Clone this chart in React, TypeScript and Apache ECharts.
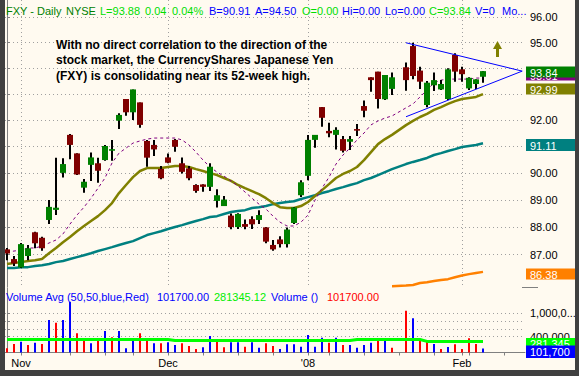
import React, { useEffect, useRef } from 'react';
import * as echarts from 'echarts';

const FONT = '"Liberation Sans", Arial, Helvetica, sans-serif';

// slot index 0..68 (trading days, idx 56 = MLK holiday gap)
const monthIdx = [2, 23, 43, 65];
const monthLabels = ['Nov', 'Dec', "'08", 'Feb'];
const weekIdx = [2, 9, 14, 18, 23, 28, 33, 38, 43, 46, 51, 56, 61, 65, 66, 71];
const priceTicks = [87, 88, 89, 90, 91, 92, 93, 94, 95, 96];
const priceLabelTicks = [87, 88, 89, 90, 91, 92, 95, 96];
const volTicks = [400000, 600000, 800000, 1000000];
const volLabelTicks = [400000, 1000000];

const opens = [87.19, 86.84, 86.54, 86.95, 87.81, 87.61, 88.26, 88.63, 90.0, 91.43,
  90.73, 89.45, 90.3, 90.36, 90.48, 90.83, 91.97, 92.8, 92.29, 92.67,
  91.2, 91.05, 90.15, 90.58, 91.24, 90.36, 90.17, 89.55, 89.57, 89.48,
  88.96, 88.77, 88.42, 88.0, 88.11, 88.29, 88.26, 87.99, 87.35, 87.55,
  87.38, 88.15, 89.17, 89.89, 91.24, 92.49, 91.58, 91.43, 91.27, 91.17,
  91.65, 92.53, 93.64, 93.86, 92.79, 93.19, null, 94.03, 94.86, 93.9,
  92.57, 93.33, 93.17, 92.8, 94.51, 93.95, 93.21, 93.38, 93.66];
const closes = [87.04, 86.68, 87.38, 87.23, 87.41, 87.23, 88.74, 88.71, 90.33, 91.05,
  89.94, 89.67, 90.58, 90.08, 91.01, 90.89, 92.19, 92.29, 93.17, 91.81,
  90.57, 90.88, 89.8, 90.38, 90.98, 90.04, 89.8, 89.33, 89.48, 90.23,
  89.17, 89.01, 88.0, 88.48, 88.01, 88.1, 88.44, 87.47, 87.19, 87.38,
  87.91, 88.72, 89.65, 91.24, 91.43, 92.08, 91.49, 91.62, 90.83, 91.27,
  91.59, 92.35, 93.53, 92.8, 93.73, 93.64, null, 93.53, 93.69, 93.47,
  93.43, 93.53, 93.38, 93.95, 93.86, 93.76, 93.62, 93.56, 93.88];
const highs = [87.24, 86.95, 87.42, 87.35, 87.83, 87.65, 88.99, 90.57, 90.55, 91.46,
  90.74, 89.77, 90.76, 90.57, 91.05, 91.24, 92.25, 92.8, 93.17, 92.67,
  91.24, 91.24, 90.26, 90.73, 91.27, 90.58, 90.26, 89.58, 89.58, 90.36,
  89.39, 89.14, 88.5, 88.51, 88.28, 88.4, 88.62, 88.0, 87.53, 87.67,
  87.98, 88.74, 89.73, 91.43, 91.43, 92.49, 91.89, 91.72, 91.39, 91.39,
  91.84, 92.74, 93.64, 93.86, 93.73, 93.83, null, 94.22, 94.99, 94.05,
  93.5, 93.83, 93.53, 93.99, 94.58, 94.05, 93.64, 93.56, 93.88];
const lows = [86.8, 86.59, 86.52, 86.8, 87.23, 87.14, 88.11, 88.44, 89.83, 90.51,
  89.92, 89.26, 89.7, 89.63, 90.45, 90.45, 91.65, 92.16, 92.0, 91.7,
  90.23, 90.63, 89.76, 90.36, 90.79, 89.98, 89.73, 89.26, 89.3, 89.33,
  88.72, 88.77, 87.92, 87.93, 87.92, 87.93, 88.11, 87.41, 87.14, 87.26,
  87.26, 88.11, 89.1, 89.73, 90.94, 91.74, 91.34, 90.88, 90.76, 90.86,
  91.39, 92.1, 93.08, 92.44, 92.76, 92.95, null, 93.12, 93.56, 93.19,
  92.48, 93.11, 93.15, 92.76, 93.47, 93.47, 93.15, 93.19, 93.43];

const ma10 = [87.09, 87.13, 87.16, 87.24, 87.24, 87.31, 87.42, 87.53, 87.75, 88.11,
  88.44, 88.73, 89.06, 89.43, 89.81, 90.37, 90.74, 90.93, 91.12, 91.2,
  91.27, 91.31, 91.31, 91.31, 91.31, 91.24, 91.05, 90.78, 90.48, 90.22,
  90.03, 89.88, 89.7, 89.51, 89.29, 89.06, 88.84, 88.66, 88.4, 88.18,
  88.04, 88.04, 88.18, 88.44, 88.99, 89.43, 89.84, 90.33, 90.67, 90.93,
  91.24, 91.5, 91.81, 91.96, 92.07, 92.15, null, 92.46, 92.61, 92.88,
  93.15, 93.42, 93.53, 93.57, 93.57, 93.57, 93.57, 93.61, 93.61];
const ma20 = [86.66, 86.7, 86.73, 86.77, 86.8, 86.84, 87.05, 87.24, 87.45, 87.64,
  87.85, 88.04, 88.22, 88.4, 88.62, 88.88, 89.25, 89.55, 89.84, 90.07,
  90.18, 90.18, 90.18, 90.22, 90.26, 90.26, 90.22, 90.14, 90.07, 89.99,
  89.92, 89.81, 89.7, 89.55, 89.43, 89.32, 89.21, 89.06, 88.88, 88.73,
  88.7, 88.7, 88.77, 88.92, 89.14, 89.36, 89.58, 89.81, 89.96, 90.07,
  90.22, 90.48, 90.78, 91.08, 91.27, 91.43, null, 91.8, 91.96, 92.11,
  92.23, 92.38, 92.49, 92.61, 92.72, 92.8, 92.84, 92.88, 92.99];
const ma50 = [86.52, 86.52, 86.55, 86.55, 86.59, 86.62, 86.66, 86.73, 86.77, 86.84,
  86.91, 86.98, 87.05, 87.13, 87.2, 87.27, 87.35, 87.42, 87.49, 87.6,
  87.71, 87.78, 87.85, 87.93, 88.0, 88.07, 88.15, 88.22, 88.29, 88.37,
  88.4, 88.48, 88.55, 88.59, 88.62, 88.7, 88.73, 88.77, 88.84, 88.88,
  88.92, 88.95, 89.03, 89.1, 89.17, 89.25, 89.32, 89.4, 89.47, 89.55,
  89.62, 89.73, 89.81, 89.92, 90.03, 90.14, null, 90.33, 90.41, 90.48,
  90.56, 90.67, 90.74, 90.82, 90.89, 90.97, 91.01, 91.05, 91.11];
const ma200Start = 55;
const ma200 = [85.87, null, 85.89, 85.91, 85.98, 86.01, 86.05, 86.09, 86.12, 86.19, 86.25, 86.3, 86.34, 86.38];

const triangle = [[57, 94.99], [73.6, 93.88], [57, 92.12]];

const volumes = [106000, 215000, 273000, 190000, 248000, 215000, 822000, 754000, 822000, 1285000,
  486000, 291000, 233000, 291000, 544000, 385000, 544000, 106000, 291000, 486000,
  316000, 233000, 233000, 258000, 190000, 233000, 164000, 89000, 132000, 417000,
  299000, 132000, 258000, 258000, 147000, 258000, 121000, 233000, 164000, 89000,
  207000, 207000, 147000, 443000, 147000, 374000, 248000, 374000, 190000, 190000,
  121000, 190000, 248000, 359000, 316000, 121000, null, 1058000, 865000, 334000,
  273000, 215000, 89000, 139000, 207000, 89000, 359000, 215000, 101700];
const volUp = [0, 0, 1, 0, 1, 0, 1, 0, 1, 1,
  0, 0, 1, 0, 1, 0, 1, 1, 1, 0,
  0, 1, 0, 1, 1, 0, 0, 0, 1, 1,
  0, 0, 1, 1, 0, 1, 1, 0, 0, 1,
  1, 1, 1, 1, 1, 1, 0, 1, 0, 1,
  1, 1, 1, 0, 1, 0, 0, 0, 1, 0,
  0, 1, 0, 1, 0, 0, 0, 0, 1];
const volAvgSteps = [
  { from: 0, to: 23, v: 330000 },
  { from: 24, to: 49, v: 305000 },
  { from: 50, to: 59, v: 330000 },
  { from: 60, to: 68, v: 281345 },
];

const headerParts = [
  { t: 'FXY - Daily', x: 6, c: '#008000' },
  { t: 'NYSE', x: 66, c: '#008000' },
  { t: 'L=93.88', x: 100, c: '#00dd00' },
  { t: '0.04', x: 145, c: '#00dd00' },
  { t: '0.04%', x: 172, c: '#00dd00' },
  { t: 'B=90.91', x: 209, c: '#0000ff' },
  { t: 'A=94.50', x: 255, c: '#0000ff' },
  { t: 'O=0.00', x: 302, c: '#00dd00' },
  { t: 'Hi=0.00', x: 342, c: '#0000ff' },
  { t: 'Lo=0.00', x: 385, c: '#0000ff' },
  { t: 'C=93.84', x: 429, c: '#00dd00' },
  { t: 'V=0', x: 475, c: '#0000ff' },
  { t: 'Mo...', x: 502, c: '#0000ff' },
];
const volLabelParts = [
  { t: 'Volume Avg (50,50,blue,Red)', x: 6, c: '#0000ff' },
  { t: '101700.00', x: 157, c: '#0000ff' },
  { t: '281345.12', x: 214, c: '#00ee00' },
  { t: 'Volume ()', x: 271, c: '#0000ff' },
  { t: '101700.00', x: 327, c: '#ff0000' },
];
const noteLines = [
  'With no direct correlation to the direction of the',
  'stock market, the CurrencyShares Japanese Yen',
  '(FXY) is consolidating near its 52-week high.',
];
const tags = [
  { t: '93.61', y: 75, h: 11, c: '#800080' },
  { t: '93.84', y: 72, h: 11, c: '#008000' },
  { t: '92.99', y: 89, h: 11, c: '#808000' },
  { t: '91.11', y: 145, h: 12, c: '#008080' },
  { t: '86.38', y: 274, h: 11, c: '#ff8000' },
  { t: '281,345', y: 343.5, h: 11, c: '#00ff00' },
  { t: '101,700', y: 351.75, h: 12.5, c: '#0000ff' },
];

const series2 = (arr: (number | null)[], start = 0) =>
  arr.map((v, k) => [start + k, v]).filter((p) => p[1] != null);

export default function App() {
  const ref = useRef<HTMLDivElement>(null);
  useEffect(() => {
    const chart = echarts.init(ref.current!, null, { renderer: 'svg' });
    const grid = '#a0a0a0';
    const candleData: any[] = [];
    for (let i = 0; i < opens.length; i++) {
      if (opens[i] == null) continue;
      candleData.push([i, opens[i], closes[i], lows[i], highs[i]]);
    }
    const volData: any[] = [];
    volumes.forEach((v, i) => {
      if (v == null) return;
      volData.push({ value: [i, v], itemStyle: { color: volUp[i] ? '#0000ff' : '#ff0000' } });
    });
    const volAvg: number[][] = [];
    volAvgSteps.forEach((s) => {
      for (let i = s.from; i <= s.to; i++) if (volumes[i] != null) volAvg.push([i, s.v]);
    });

    const graphics: any[] = [];
    headerParts.forEach((p) =>
      graphics.push({ type: 'text', z: 50, style: { text: p.t, x: p.x, y: 11, fill: p.c, font: `11px ${FONT}`, verticalAlign: 'middle' } })
    );
    volLabelParts.forEach((p) =>
      graphics.push({ type: 'text', z: 50, style: { text: p.t, x: p.x, y: 297, fill: p.c, font: `11px ${FONT}`, verticalAlign: 'middle' } })
    );
    noteLines.forEach((t, k) =>
      graphics.push({ type: 'text', z: 50, style: { text: t, x: 56, y: 45 + k * 15.3, fill: '#000', font: `bold 12px ${FONT}`, verticalAlign: 'middle' } })
    );
    graphics.push({
      type: 'polygon', z: 50,
      shape: { points: [[497.5, 41], [502, 49], [499, 49], [499, 57], [496, 57], [496, 49], [493, 49]] },
      style: { fill: '#808000' },
    });
    tags.forEach((g, k) => {
      graphics.push({ type: 'rect', z: 60 + k, shape: { x: 526, y: g.y - g.h / 2, width: 49, height: g.h }, style: { fill: g.c } });
      graphics.push({ type: 'text', z: 60 + k, style: { text: g.t, x: 530, y: g.y + 0.5, fill: '#fff', font: `11px ${FONT}`, verticalAlign: 'middle' } });
    });
    graphics.push({ type: 'line', z: 55, shape: { x1: 522, y1: 287.5, x2: 538, y2: 287.5 }, style: { stroke: '#808080', lineWidth: 1 } });
    // frame
    graphics.push({ type: 'rect', z: 200, shape: { x: 0, y: 0, width: 5, height: 376 }, style: { fill: '#404040' } });
    graphics.push({ type: 'rect', z: 200, shape: { x: 0, y: 370, width: 579, height: 6 }, style: { fill: '#404040' } });
    graphics.push({ type: 'rect', z: 200, shape: { x: 575, y: 0, width: 4, height: 376 }, style: { fill: '#404040' } });

    const dotted = { color: grid, type: [1, 3] as any, width: 1 };
    const option: any = {
      animation: false,
      backgroundColor: '#fffaf0',
      textStyle: { fontFamily: FONT },
      grid: [
        { left: 5, width: 520, top: 0, height: 287 },
        { left: 5, width: 520, top: 288, height: 64.5 },
      ],
      xAxis: [
        {
          gridIndex: 0, type: 'value', min: -2 / 7, max: 74,
          axisLine: { show: false }, axisLabel: { show: false },
          axisTick: { show: false, customValues: monthIdx },
          splitLine: { show: true, lineStyle: dotted },
        },
        {
          gridIndex: 1, type: 'value', min: -2 / 7, max: 74,
          axisLine: { show: true, onZero: false, lineStyle: { color: '#808080' } },
          axisTick: { show: true, customValues: weekIdx, length: 3, lineStyle: { color: '#808080' } },
          axisLabel: {
            show: true, customValues: monthIdx, margin: 5, color: '#000', fontSize: 11, fontFamily: FONT,
            formatter: (v: number) => monthLabels[monthIdx.indexOf(Math.round(v))] ?? '',
          },
          splitLine: { show: false },
        },
      ],
      yAxis: [
        {
          gridIndex: 0, type: 'log', position: 'right', min: 85.84, max: 96.69,
          axisLine: { show: true, lineStyle: { color: '#808080' } },
          axisTick: { show: true, customValues: priceTicks, length: 3, lineStyle: { color: '#808080' } },
          axisLabel: {
            customValues: priceLabelTicks, margin: 5, color: '#000', fontSize: 11, fontFamily: FONT,
            formatter: (v: number) => Number(v).toFixed(2),
          },
          splitLine: { show: true, lineStyle: dotted },
        },
        {
          gridIndex: 1, type: 'value', position: 'right', min: 0, max: 1632000,
          axisLine: { show: true, lineStyle: { color: '#808080' } },
          axisTick: { show: true, customValues: volTicks, length: 3, lineStyle: { color: '#808080' } },
          axisLabel: {
            customValues: volLabelTicks, margin: 5, color: '#000', fontSize: 11, fontFamily: FONT,
            formatter: (v: number) => {
              const s = Math.round(v).toLocaleString('en-US');
              return s.length > 7 ? s.slice(0, 7) + '...' : s;
            },
          },
          splitLine: { show: true, lineStyle: dotted },
        },
      ],
      series: [
        {
          type: 'line', xAxisIndex: 0, yAxisIndex: 0, data: series2(ma50), symbol: 'none', z: 2,
          lineStyle: { color: '#008080', width: 2.5 },
        },
        {
          type: 'line', xAxisIndex: 0, yAxisIndex: 0, data: series2(ma20), symbol: 'none', z: 2,
          lineStyle: { color: '#808000', width: 2.5 },
        },
        {
          type: 'line', xAxisIndex: 0, yAxisIndex: 0, data: series2(ma200, ma200Start), symbol: 'none', z: 2,
          lineStyle: { color: '#ff8000', width: 2.5 },
        },
        {
          type: 'line', xAxisIndex: 0, yAxisIndex: 0, data: series2(ma10), symbol: 'none', z: 2,
          lineStyle: { color: '#800080', width: 1, type: [3, 3] },
        },
        {
          type: 'custom', xAxisIndex: 0, yAxisIndex: 0, z: 3,
          data: candleData,
          encode: { x: 0, y: [1, 2, 3, 4] },
          renderItem: (params: any, api: any) => {
            const i = api.value(0);
            const o = api.value(1), c = api.value(2), l = api.value(3), h = api.value(4);
            const po = api.coord([i, o]);
            const pc = api.coord([i, c]);
            const pl = api.coord([i, l]);
            const ph = api.coord([i, h]);
            const cx = Math.round(po[0]);
            const top = Math.min(po[1], pc[1]);
            const bh = Math.max(1.5, Math.abs(po[1] - pc[1]));
            return {
              type: 'group',
              children: [
                { type: 'rect', shape: { x: cx - 1, y: ph[1], width: 2, height: Math.max(1, pl[1] - ph[1]) }, style: { fill: '#000' } },
                { type: 'rect', shape: { x: cx - 3, y: top, width: 6, height: bh }, style: { fill: c >= o ? '#008000' : '#800000' } },
              ],
            };
          },
        },
        {
          type: 'line', xAxisIndex: 0, yAxisIndex: 0, data: triangle, symbol: 'none', z: 4,
          lineStyle: { color: '#0000ff', width: 1 },
        },
        {
          type: 'bar', xAxisIndex: 1, yAxisIndex: 1, data: volData, barWidth: 2, z: 2,
        },
        {
          type: 'line', xAxisIndex: 1, yAxisIndex: 1, data: volAvg, symbol: 'none', z: 3,
          lineStyle: { color: '#00ff00', width: 3 },
        },
      ],
      graphic: graphics,
    };
    chart.setOption(option);
    return () => chart.dispose();
  }, []);
  return (
    <div
      ref={ref}
      style={{ position: 'fixed', left: 0, top: 0, width: 579, height: 376, background: '#fffaf0' }}
    />
  );
}
